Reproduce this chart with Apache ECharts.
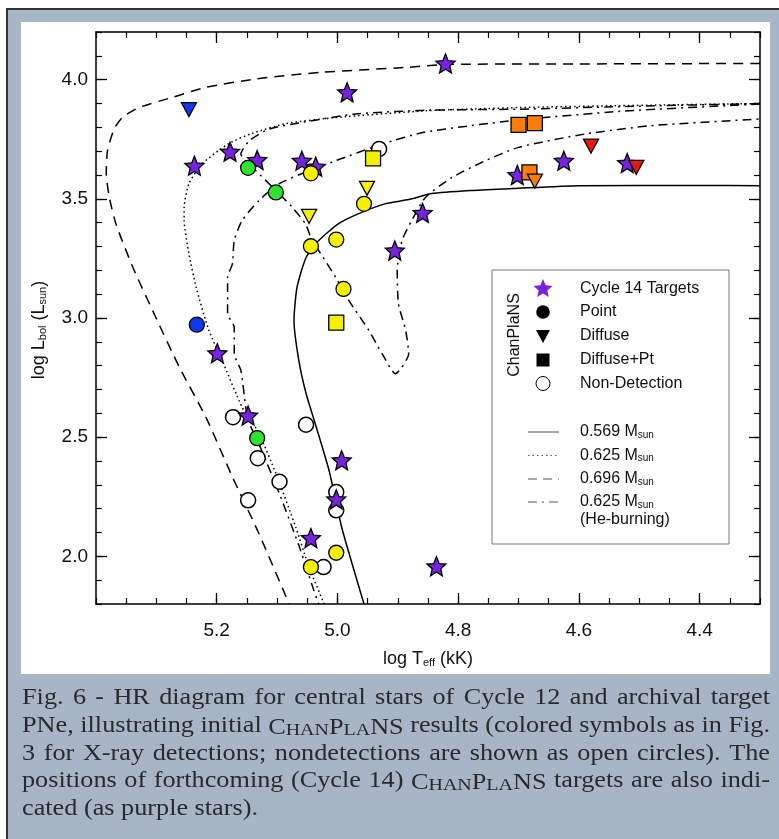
<!DOCTYPE html>
<html><head><meta charset="utf-8">
<script src="https://cdn.jsdelivr.net/npm/echarts@6/dist/echarts.min.js"></script>
<style>
html,body{margin:0;padding:0;background:#fff;}
#frame{position:absolute;left:6px;top:8px;width:800px;height:860px;background:#a7b5c7;border-left:2.5px solid #333;border-top:2.5px solid #333;}
#panel{position:absolute;left:21px;top:22px;width:749px;height:652px;background:#fff;}
#c{position:absolute;left:0;top:0;width:779px;height:839px;}
</style>
</head><body><div id="frame"></div><div id="panel"></div><div id="c"></div>
<script>
// ---------- axis ticks ----------
const xMajorTicks = [4.4, 4.6, 4.8, 5.0, 5.2];
const yMajorTicks = [2.0, 2.5, 3.0, 3.5, 4.0];

// ---------- evolutionary tracks [log Teff, log L] ----------
const track0569 = [[4.30,3.555],[4.40,3.556],[4.60,3.555],[4.71,3.543],[4.78,3.535],[4.844,3.522],[4.882,3.497],[4.920,3.480],[4.960,3.443],[4.998,3.396],[5.031,3.325],[5.052,3.254],[5.067,3.128],[5.072,2.990],[5.064,2.822],[5.052,2.683],[5.036,2.55],[5.014,2.361],[4.993,2.122],[4.976,1.971],[4.956,1.80]];
const track0625 = [[4.30,3.900],[4.531,3.891],[4.698,3.883],[4.849,3.870],[5.003,3.841],[5.085,3.816],[5.142,3.774],[5.180,3.732],[5.224,3.648],[5.246,3.564],[5.254,3.463],[5.254,3.409],[5.246,3.270],[5.234,3.128],[5.213,2.948],[5.191,2.822],[5.158,2.625],[5.148,2.591],[5.130,2.516],[5.102,2.348],[5.069,2.122],[5.047,1.954],[5.022,1.80]];
const track0696 = [[4.30,4.068],[4.601,4.066],[4.821,4.064],[4.882,4.052],[5.026,4.031],[5.135,4.003],[5.218,3.968],[5.273,3.926],[5.328,3.884],[5.356,3.842],[5.370,3.793],[5.381,3.702],[5.383,3.605],[5.378,3.507],[5.367,3.395],[5.339,3.213],[5.301,3.003],[5.262,2.794],[5.218,2.584],[5.174,2.333],[5.130,2.095],[5.080,1.80]];
const trackHeA = [[4.30,3.900],[4.531,3.887],[4.698,3.876],[4.849,3.872],[4.970,3.856],[5.058,3.821],[5.113,3.793],[5.146,3.744],[5.160,3.688],[5.135,3.618],[5.102,3.535],[5.075,3.465],[5.053,3.395],[5.042,3.325],[5.031,3.283],[5.003,3.171],[4.981,3.073],[4.948,2.948],[4.926,2.850],[4.904,2.766],[4.882,2.850],[4.887,2.948],[4.899,3.060],[4.901,3.199],[4.893,3.325],[4.877,3.409],[4.854,3.507],[4.810,3.590],[4.755,3.660],[4.700,3.716],[4.590,3.772],[4.480,3.807],[4.30,3.835]];
const trackHeB = [[4.30,3.898],[4.532,3.867],[4.711,3.828],[4.857,3.779],[4.926,3.730],[5.003,3.660],[5.047,3.618],[5.097,3.563],[5.130,3.493],[5.158,3.409],[5.171,3.325],[5.174,3.227],[5.182,3.171],[5.182,3.018],[5.171,2.961],[5.171,2.850],[5.160,2.780],[5.152,2.626],[5.148,2.57],[5.127,2.453],[5.097,2.268],[5.064,2.046],[5.039,1.857],[5.031,1.80]];

// ---------- stars ----------
const cycle14Targets = [[4.821,4.068],[4.984,3.947],[5.237,3.639],[5.178,3.698],[5.133,3.663],[5.059,3.660],[5.036,3.635],[4.905,3.283],[4.859,3.441],[4.702,3.600],[4.625,3.660],[4.520,3.650],[5.199,2.852],[5.148,2.591],[4.993,2.403],[5.002,2.239],[5.044,2.077],[4.836,1.958]];
const pointDetections = [[5.233,2.972,'blue'],[5.148,3.630,'green'],[5.102,3.527,'green'],[5.133,2.496,'green'],[5.044,3.607,'yellow'],[4.956,3.479,'yellow'],[5.044,3.301,'yellow'],[5.002,3.329,'yellow'],[4.990,3.122,'yellow'],[5.002,2.015,'yellow'],[5.044,1.955,'yellow']];
const diffuseDetections = [[5.246,3.874,'blue'],[4.951,3.544,'yellow'],[5.047,3.426,'yellow'],[4.580,3.721,'red'],[4.505,3.632,'red'],[4.673,3.574,'orange']];
const diffusePtDetections = [[4.941,3.670,'yellow'],[5.002,2.981,'yellow'],[4.700,3.810,'orange'],[4.673,3.818,'orange'],[4.682,3.611,'orange']];
const nonDetections = [[4.931,3.709],[5.173,2.584],[5.052,2.552],[5.132,2.412],[5.096,2.313],[5.002,2.270],[5.002,2.193],[5.148,2.235],[5.023,1.955]];

const captionLines = [
  'Fig. 6 - HR diagram for central stars of Cycle 12 and archival target',
  'PNe, illustrating initial CHANPLANS results (colored symbols as in Fig.',
  '3 for X-ray detections; nondetections are shown as open circles). The',
  'positions of forthcoming (Cycle 14) CHANPLANS targets are also indi-',
  'cated (as purple stars).'
];

const COL = {blue:'#1238ee', green:'#2fe22f', yellow:'#f5f000', orange:'#f77d0c', red:'#ee1515', purple:'#7722dd'};
const STAR = 'path://M0,-10 L2.645,-3.64 L9.511,-3.09 L4.28,1.39 L5.878,8.09 L0,4.5 L-5.878,8.09 L-4.28,1.39 L-9.511,-3.09 L-2.645,-3.64 Z';
const TRI = 'path://M-7,-6 L7,-6 L0,7 Z';
const SANS = '"Liberation Sans", Arial, sans-serif';
const SERIF = '"Liberation Serif", serif';

function xAx(pos, major, labels){
  return {type:'value', position:pos, inverse:true, min:4.3, max:5.4, interval:0.05,
    axisLine:{show:!major, lineStyle:{color:'#000', width:1.5}},
    axisTick:major?{show:true, inside:true, length:11, customValues:xMajorTicks, lineStyle:{color:'#000', width:1.3}}
                  :{show:true, inside:true, length:6, lineStyle:{color:'#000', width:1.2}},
    axisLabel:labels?{show:true, customValues:xMajorTicks, formatter:v=>v.toFixed(1), fontSize:19, fontFamily:SANS, color:'#111', margin:17}:{show:false},
    splitLine:{show:false}};
}
function yAx(pos, major, labels){
  return {type:'value', position:pos, min:1.8, max:4.2, interval:0.1,
    axisLine:{show:!major, lineStyle:{color:'#000', width:1.5}},
    axisTick:major?{show:true, inside:true, length:11, customValues:yMajorTicks, lineStyle:{color:'#000', width:1.3}}
                  :{show:true, inside:true, length:6, lineStyle:{color:'#000', width:1.2}},
    axisLabel:labels?{show:true, customValues:yMajorTicks, formatter:v=>v.toFixed(1), fontSize:19, fontFamily:SANS, color:'#111', margin:8}:{show:false},
    splitLine:{show:false}};
}
function lineSeries(data, type){
  return {type:'line', data:data, xAxisIndex:0, yAxisIndex:0, symbol:'none', showSymbol:false, smooth:0.2, z:2,
    lineStyle:{color:'#000', width:1.5, type:type}, silent:true};
}
function coloured(arr){ return arr.map(p=>({value:[p[0],p[1]], itemStyle:{color:COL[p[2]]}})); }

// ---------- caption (justified, slightly widened serif) ----------
const ctx = document.createElement('canvas').getContext('2d');
const CAP = 23, CAPS = 17.5, CAPCOL = '#2a2a2a';
function mwRaw(t, size){ ctx.font = size + 'px ' + SERIF; return ctx.measureText(t).width; }
const SX = 236 / mwRaw(captionLines[4], CAP);   // horizontal widening to mimic the wider book face
function mw(t, size){ return mwRaw(t, size) * SX; }
function wordEl(word){
  if (word === 'CHANPLANS'){
    const parts = [['C','b'],['HAN','s'],['P','b'],['LA','s'],['NS','b']];
    const width = parts.reduce((a,p)=>a+mw(p[0], p[1]==='b'?CAP:CAPS),0);
    return {width, style:{text:parts.map(p=>'{'+p[1]+'|'+p[0]+'}').join(''),
      rich:{b:{fontSize:CAP, fontFamily:SERIF, fill:CAPCOL, verticalAlign:'bottom', lineHeight:27},
            s:{fontSize:CAPS, fontFamily:SERIF, fill:CAPCOL, verticalAlign:'bottom', lineHeight:24}}}};
  }
  return {width:mw(word, CAP), style:{text:word, font:CAP+'px '+SERIF, fill:CAPCOL}};
}
const capEls = [];
const capLeft = 22, capRight = 770, capY0 = 698, capDy = 27.8;
captionLines.forEach((line, i)=>{
  const words = line.split(' ').map(wordEl);
  const total = words.reduce((a,w)=>a+w.width,0);
  const justify = i < captionLines.length-1;
  const gap = justify ? (capRight-capLeft-total)/(words.length-1) : mw(' ',CAP);
  let x = capLeft;
  words.forEach(w=>{
    const st = Object.assign({}, w.style, {align:'left', verticalAlign:'middle'});
    capEls.push({type:'text', x:x, y:capY0 + i*capDy, scaleX:SX, z:100, style:st});
    x += w.width + gap;
  });
});

// ---------- legend (graphic) ----------
const starPts = [[0,-10],[2.645,-3.64],[9.511,-3.09],[4.28,1.39],[5.878,8.09],[0,4.5],[-5.878,8.09],[-4.28,1.39],[-9.511,-3.09],[-2.645,-3.64]];
const LX = 543, TX = 580;
const subRich = {s:{fontSize:10, fontFamily:SANS, fill:'#111', verticalAlign:'bottom', lineHeight:5}};
function ltext(t, y, rich){ return {type:'text', x:TX, y:y, z:101, style:{text:t, font:'16px '+SANS, fill:'#111', align:'left', verticalAlign:'middle', rich:rich}}; }
function lline(y, dash){ return {type:'line', z:101, shape:{x1:528,y1:y,x2:559,y2:y}, style:{stroke:'#555', lineWidth:1, lineDash:dash}}; }
const legendEls = [
  {type:'rect', z:100, shape:{x:492, y:270, width:237, height:274}, style:{fill:'#fff', stroke:'#777', lineWidth:1}},
  {type:'polygon', z:101, x:LX, y:289, shape:{points:starPts}, style:{fill:COL.purple}},
  {type:'circle', z:101, shape:{cx:LX, cy:312, r:6.8}, style:{fill:'#000'}},
  {type:'polygon', z:101, x:LX, y:336, shape:{points:[[-7,-6],[7,-6],[0,7]]}, style:{fill:'#000'}},
  {type:'rect', z:101, shape:{x:LX-6.5, y:360-6.5, width:13, height:13}, style:{fill:'#000'}},
  {type:'circle', z:101, shape:{cx:LX, cy:383.5, r:7}, style:{fill:'#fff', stroke:'#000', lineWidth:1}},
  ltext('Cycle 14 Targets', 289), ltext('Point', 312), ltext('Diffuse', 336), ltext('Diffuse+Pt', 360), ltext('Non-Detection', 383.5),
  {type:'text', x:515, y:335, z:101, rotation:Math.PI/2, style:{text:'ChanPlaNS', font:'16px '+SANS, fill:'#111', align:'center', verticalAlign:'middle'}},
  lline(432, null), lline(455.5, [1.5,3]), lline(479, [9,6]), lline(502, [9,5,2,5]),
  ltext('0.569 M{s|sun}', 432, subRich), ltext('0.625 M{s|sun}', 455.5, subRich), ltext('0.696 M{s|sun}', 479, subRich), ltext('0.625 M{s|sun}', 502, subRich),
  ltext('(He-burning)', 520)
];

const titleRich = {s:{fontSize:11, fontFamily:SANS, fill:'#111', verticalAlign:'bottom', lineHeight:5}};
const titleEls = [
  {type:'text', x:428, y:659, z:100, style:{text:'log T{s|eff} (kK)', font:'18px '+SANS, fill:'#111', align:'center', verticalAlign:'middle', rich:titleRich}},
  {type:'text', x:39, y:330, z:100, rotation:Math.PI/2, style:{text:'log L{s|bol} (L{s|sun})', font:'18px '+SANS, fill:'#111', align:'center', verticalAlign:'middle', rich:titleRich}}
];

const chart = echarts.init(document.getElementById('c'), null, {renderer:'canvas', width:779, height:839});
chart.setOption({
  animation:false,
  backgroundColor:'transparent',
  grid:{left:96, top:32, width:664, height:572, containLabel:false},
  xAxis:[xAx('bottom',false,false), xAx('bottom',true,true), xAx('top',false,false), xAx('top',true,false)],
  yAxis:[yAx('left',false,false), yAx('left',true,true), yAx('right',false,false), yAx('right',true,false)],
  series:[
    lineSeries(track0569, 'solid'),
    lineSeries(track0625, [1.5,3]),
    lineSeries(track0696, [10,7]),
    lineSeries(trackHeA, [9,5,2,5]),
    lineSeries(trackHeB, [9,5,2,5]),
    {type:'scatter', data:nonDetections, symbol:'circle', symbolSize:15, z:3,
      itemStyle:{color:'#fff', borderColor:'#000', borderWidth:1.5, opacity:1}},
    {type:'scatter', data:cycle14Targets, symbol:STAR, symbolSize:19, z:4,
      itemStyle:{color:COL.purple, borderColor:'#000', borderWidth:1.3, opacity:1}},
    {type:'scatter', data:coloured(pointDetections), symbol:'circle', symbolSize:15, z:5,
      itemStyle:{borderColor:'#000', borderWidth:1.3, opacity:1}},
    {type:'scatter', data:coloured(diffusePtDetections), symbol:'rect', symbolSize:15, z:6,
      itemStyle:{borderColor:'#000', borderWidth:1.3, opacity:1}},
    {type:'scatter', data:coloured(diffuseDetections), symbol:TRI, symbolSize:[15,14], z:7,
      itemStyle:{borderColor:'#000', borderWidth:1.3, opacity:1}}
  ],
  graphic:{elements: legendEls.concat(titleEls, capEls)}
});
</script>
</body></html>
